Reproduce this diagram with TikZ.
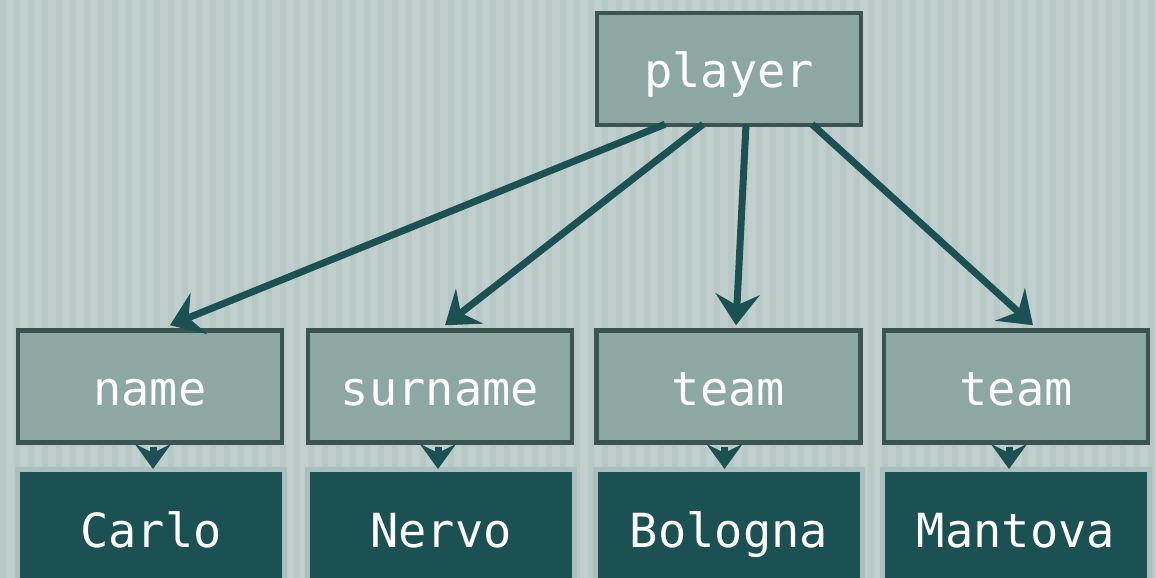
\documentclass[tikz,border=0pt]{standalone}
\usepackage{fontspec}
\setmonofont{DejaVu Sans Mono}
\usetikzlibrary{arrows.meta,calc}
\definecolor{bgA}{HTML}{C0CFCD}
\definecolor{bgB}{HTML}{B8C8C5}
\definecolor{attrfill}{HTML}{8DA7A2}
\definecolor{attrline}{HTML}{3B5452}
\definecolor{valfill}{HTML}{1B5153}
\definecolor{valline}{HTML}{A9C0BD}
\definecolor{arrowc}{HTML}{1B5153}
\tikzset{
  attr/.style={draw=attrline, line width=4.5pt, fill=attrfill, minimum width=264pt, minimum height=112pt,
    inner sep=0pt, text=white, text height=38pt, text depth=0pt, font=\ttfamily\fontsize{47}{50}\selectfont},
  val/.style={draw=valline, line width=5pt, fill=valfill, minimum width=267pt, minimum height=130pt,
    inner sep=0pt, text=white, text height=34pt, text depth=0pt, font=\ttfamily\fontsize{47}{50}\selectfont},
  bigarrow/.style={draw=arrowc, line width=7pt, -{Stealth[length=31pt, width=44pt, inset=11pt]}},
  smallarrow/.style={draw=arrowc, line width=7pt, -{Stealth[length=25pt, width=36pt, inset=9pt]}},
}
\begin{document}
\begin{tikzpicture}[x=1pt,y=-1pt]
\useasboundingbox (0,0) rectangle (1156,578);
\fill[bgA] (0,0) rectangle (1156,578);
\foreach \i in {0,14,...,1150} {\fill[bgB] (\i,0) rectangle (\i+6,578);}
% attribute nodes
\node[attr] (player) at (729,69) {player};
\node[attr] (name) at (150,386.5) {name};
\node[attr] (surname) at (440,386.5) {surname};
\node[attr] (team1) at (728.5,386.5) {team};
\node[attr] (team2) at (1016,386.5) {team};
% value nodes
\node[val] (carlo) at (151,534.5) {\raisebox{4pt}{Carlo}};
\node[val] (nervo) at (441,534.5) {\raisebox{4pt}{Nervo}};
\node[val] (bologna) at (729,534.5) {\raisebox{4pt}{Bologna}};
\node[val] (mantova) at (1016,534.5) {\raisebox{4pt}{Mantova}};
% arrows from player
\draw[bigarrow] ($(player.south)+(-64,-3)$) -- ($(name.north)+(20,-3)$);
\draw[bigarrow] ($(player.south)+(-26,-3)$) -- ($(surname.north)+(5,-3)$);
\draw[bigarrow] ($(player.south)+(17,-3)$) -- ($(team1.north)+(7.5,-3)$);
\draw[bigarrow] ($(player.south)+(83,-3)$) -- ($(team2.north)+(17,-3)$);
% arrows to values
\draw[smallarrow] ($(name.south)+(3,2)$) -- ($(carlo.north)+(2,2)$);
\draw[smallarrow] ($(surname.south)+(-2,2)$) -- ($(nervo.north)+(-3,2)$);
\draw[smallarrow] ($(team1.south)+(-4,2)$) -- ($(bologna.north)+(-4.5,2)$);
\draw[smallarrow] ($(team2.south)+(-7,2)$) -- ($(mantova.north)+(-7,2)$);
\end{tikzpicture}
\end{document}
